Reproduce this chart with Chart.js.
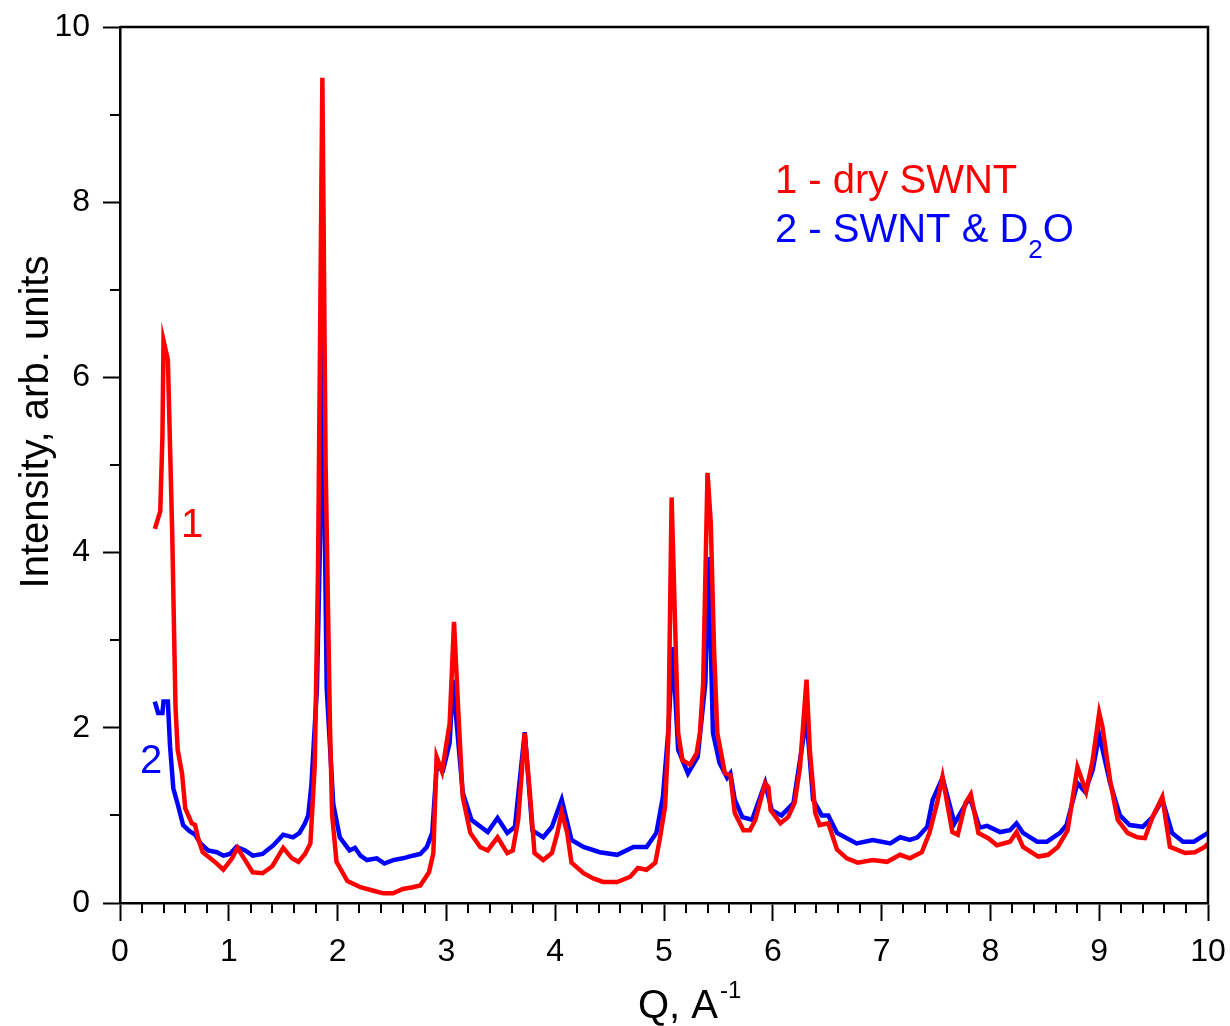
<!DOCTYPE html>
<html>
<head>
<meta charset="utf-8">
<script src="https://cdn.jsdelivr.net/npm/chart.js@4/dist/chart.umd.min.js"></script>
<style>
    html, body { margin: 0; padding: 0; background: #fff; }
    #wrap { width: 1230px; height: 1026px; }
</style>
</head>
<body>
<div id="wrap"><canvas id="chart"></canvas></div>
<script>
// curve 1 - dry SWNT
const dryQ = [0.32, 0.37, 0.39, 0.40, 0.44, 0.48, 0.51, 0.53, 0.57, 0.60, 0.66, 0.69, 0.72, 0.76, 0.83, 0.89, 0.95, 1.03, 1.08, 1.15,
    1.22, 1.31, 1.40, 1.50, 1.58, 1.64, 1.70, 1.75, 1.79, 1.82, 1.86, 1.89, 1.93, 1.95, 1.99, 2.09, 2.21, 2.33, 2.42, 2.51,
    2.60, 2.69, 2.76, 2.84, 2.88, 2.91, 2.96, 3.03, 3.07, 3.11, 3.15, 3.22, 3.31, 3.38, 3.47, 3.56, 3.61, 3.66, 3.72, 3.77,
    3.81, 3.89, 3.97, 4.02, 4.06, 4.11, 4.15, 4.26, 4.35, 4.44, 4.57, 4.69, 4.76, 4.84, 4.92, 4.96, 5.01, 5.04, 5.07, 5.10,
    5.13, 5.17, 5.24, 5.30, 5.33, 5.36, 5.40, 5.43, 5.46, 5.49, 5.56, 5.61, 5.65, 5.73, 5.79, 5.84, 5.93, 5.96, 5.98, 6.07,
    6.14, 6.20, 6.25, 6.31, 6.34, 6.39, 6.43, 6.51, 6.59, 6.68, 6.78, 6.92, 7.05, 7.17, 7.26, 7.37, 7.44, 7.51, 7.56, 7.65,
    7.70, 7.77, 7.82, 7.89, 7.98, 8.06, 8.18, 8.24, 8.30, 8.44, 8.53, 8.62, 8.71, 8.80, 8.82, 8.88, 8.94, 9.00, 9.03, 9.10,
    9.17, 9.26, 9.35, 9.42, 9.49, 9.58, 9.65, 9.79, 9.88, 9.97, 10.0];
const dryI = [4.27, 4.47, 5.33, 6.42, 6.20, 4.22, 2.24, 1.75, 1.48, 1.08, 0.91, 0.89, 0.73, 0.58, 0.51, 0.45, 0.38, 0.51, 0.63, 0.49,
    0.35, 0.34, 0.42, 0.63, 0.51, 0.47, 0.56, 0.68, 1.57, 3.79, 9.42, 5.00, 2.02, 1.00, 0.47, 0.25, 0.18, 0.14, 0.11, 0.11,
    0.16, 0.18, 0.20, 0.35, 0.57, 1.67, 1.50, 2.05, 3.21, 2.17, 1.21, 0.80, 0.64, 0.60, 0.75, 0.57, 0.60, 0.95, 1.94, 1.21,
    0.57, 0.49, 0.57, 0.80, 1.04, 0.80, 0.46, 0.34, 0.28, 0.24, 0.24, 0.30, 0.40, 0.38, 0.46, 0.72, 1.10, 1.90, 4.63, 3.26,
    1.94, 1.63, 1.58, 1.71, 1.94, 2.51, 4.91, 4.34, 2.89, 1.94, 1.48, 1.46, 1.03, 0.83, 0.83, 0.95, 1.37, 1.32, 1.06, 0.91,
    0.98, 1.14, 1.55, 2.55, 1.75, 1.03, 0.89, 0.91, 0.61, 0.51, 0.46, 0.49, 0.47, 0.55, 0.51, 0.58, 0.80, 1.14, 1.44, 0.81,
    0.78, 1.14, 1.24, 0.80, 0.74, 0.66, 0.70, 0.81, 0.64, 0.53, 0.55, 0.64, 0.83, 1.55, 1.48, 1.27, 1.63, 2.17, 2.01, 1.40,
    0.95, 0.80, 0.75, 0.74, 0.98, 1.21, 0.64, 0.57, 0.58, 0.64, 0.68];

// curve 2 - SWNT & D2O
const wetQ = [0.32, 0.35, 0.39, 0.40, 0.44, 0.46, 0.49, 0.53, 0.58, 0.64, 0.69, 0.74, 0.81, 0.89, 0.95, 1.01, 1.07, 1.15, 1.22, 1.31,
    1.41, 1.50, 1.59, 1.65, 1.70, 1.73, 1.76, 1.81, 1.84, 1.86, 1.88, 1.90, 1.96, 2.02, 2.11, 2.16, 2.21, 2.27, 2.36, 2.43,
    2.51, 2.60, 2.69, 2.76, 2.82, 2.87, 2.91, 2.97, 3.03, 3.06, 3.10, 3.15, 3.23, 3.38, 3.47, 3.56, 3.63, 3.72, 3.79, 3.89,
    3.97, 4.06, 4.15, 4.26, 4.41, 4.57, 4.72, 4.84, 4.93, 4.99, 5.04, 5.08, 5.13, 5.22, 5.31, 5.38, 5.41, 5.45, 5.51, 5.58,
    5.61, 5.65, 5.72, 5.81, 5.93, 5.99, 6.08, 6.19, 6.31, 6.37, 6.45, 6.51, 6.59, 6.77, 6.92, 7.08, 7.17, 7.26, 7.33, 7.42,
    7.47, 7.56, 7.67, 7.81, 7.90, 7.97, 8.09, 8.18, 8.24, 8.30, 8.43, 8.52, 8.64, 8.70, 8.80, 8.87, 8.94, 9.00, 9.10, 9.19,
    9.28, 9.40, 9.49, 9.58, 9.67, 9.77, 9.87, 10.0];
const wetI = [2.30, 2.17, 2.17, 2.30, 2.30, 1.79, 1.31, 1.13, 0.89, 0.82, 0.78, 0.68, 0.60, 0.58, 0.54, 0.56, 0.64, 0.60, 0.54, 0.56,
    0.66, 0.78, 0.75, 0.80, 0.91, 1.00, 1.36, 2.45, 4.22, 8.90, 4.50, 2.45, 1.13, 0.75, 0.60, 0.63, 0.54, 0.49, 0.51, 0.45,
    0.49, 0.51, 0.54, 0.56, 0.64, 0.80, 1.55, 1.52, 1.83, 2.55, 1.97, 1.26, 0.95, 0.81, 0.97, 0.80, 0.87, 1.95, 0.83, 0.75,
    0.87, 1.18, 0.72, 0.64, 0.58, 0.55, 0.64, 0.64, 0.80, 1.21, 1.97, 2.92, 1.75, 1.48, 1.67, 2.51, 3.95, 1.94, 1.60, 1.43,
    1.48, 1.18, 0.98, 0.95, 1.37, 1.06, 1.00, 1.14, 2.12, 1.18, 1.00, 1.00, 0.80, 0.68, 0.72, 0.68, 0.75, 0.72, 0.75, 0.87,
    1.18, 1.43, 0.91, 1.21, 0.86, 0.88, 0.81, 0.83, 0.91, 0.80, 0.70, 0.70, 0.80, 0.89, 1.37, 1.27, 1.52, 1.92, 1.37, 1.00,
    0.89, 0.87, 0.98, 1.18, 0.80, 0.70, 0.70, 0.80];

const xTicks = [0, 1, 2, 3, 4, 5, 6, 7, 8, 9, 10];
const yTicks = [0, 2, 4, 6, 8, 10];

const RED = '#ff0000';
const BLUE = '#0000ff';
const FONT = '"Liberation Sans", Arial, sans-serif';

function toPoints(xs, ys) {
    return xs.map((x, i) => ({ x: x, y: ys[i] }));
}

// frame, minor ticks and the text labels
const decorations = {
    id: 'decorations',
    afterDraw(chart) {
        const { ctx, chartArea: a } = chart;
        const xs = chart.scales.x;
        const ys = chart.scales.y;

        ctx.save();
        ctx.strokeStyle = '#000';
        ctx.lineWidth = 2.5;
        ctx.beginPath();
        ctx.moveTo(a.left, a.top);
        ctx.lineTo(a.right, a.top);
        ctx.lineTo(a.right, a.bottom);
        ctx.stroke();

        ctx.lineWidth = 2;
        ctx.beginPath();
        for (let i = 1; i < 50; i++) {
            if (i % 5 === 0) continue;
            const px = Math.round(xs.getPixelForValue(i / 5));
            ctx.moveTo(px, a.bottom);
            ctx.lineTo(px, a.bottom + 10);
        }
        for (let v = 1; v < 10; v += 2) {
            const py = Math.round(ys.getPixelForValue(v));
            ctx.moveTo(a.left, py);
            ctx.lineTo(a.left - 10, py);
        }
        ctx.stroke();

        ctx.fillStyle = '#000';
        ctx.textBaseline = 'alphabetic';
        ctx.textAlign = 'left';

        // x title
        ctx.font = '40px ' + FONT;
        ctx.fillText('Q, A', 638, 1018);
        const qw = ctx.measureText('Q, A').width;
        ctx.font = '24px ' + FONT;
        ctx.fillText('-1', 638 + qw + 2, 998);

        // y title
        ctx.save();
        ctx.translate(48, 422);
        ctx.rotate(-Math.PI / 2);
        ctx.textAlign = 'center';
        ctx.font = '40px ' + FONT;
        ctx.fillText('Intensity, arb. units', 0, 0);
        ctx.restore();

        // curve labels
        ctx.font = '40px ' + FONT;
        ctx.fillStyle = RED;
        ctx.fillText('1', 181, 537);
        ctx.fillText('1 - dry SWNT', 775, 193);
        ctx.fillStyle = BLUE;
        ctx.fillText('2', 140, 773);
        const main = '2 - SWNT & D';
        ctx.fillText(main, 775, 242);
        const mw = ctx.measureText(main).width;
        ctx.font = '26px ' + FONT;
        ctx.fillText('2', 775 + mw, 258);
        const sw = ctx.measureText('2').width;
        ctx.font = '40px ' + FONT;
        ctx.fillText('O', 775 + mw + sw, 242);
        ctx.restore();
    },
};

const ctx = document.getElementById('chart').getContext('2d');

new Chart(ctx, {
    type: 'line',
    data: {
        datasets: [
            {
                label: '1 - dry SWNT',
                data: toPoints(dryQ, dryI),
                borderColor: RED,
                borderWidth: 4.5,
                pointRadius: 0,
                tension: 0,
                order: 0,
            },
            {
                label: '2 - SWNT & D2O',
                data: toPoints(wetQ, wetI),
                borderColor: BLUE,
                borderWidth: 4.5,
                pointRadius: 0,
                tension: 0,
                order: 1,
            },
        ],
    },
    options: {
        responsive: true,
        maintainAspectRatio: false,
        animation: false,
        layout: {
            padding: { top: 27, right: 22, left: 0, bottom: 0 },
        },
        plugins: {
            legend: { display: false },
            tooltip: { enabled: false },
        },
        scales: {
            x: {
                type: 'linear',
                min: 0,
                max: 10,
                afterFit(scale) {
                    scale.height = 123;
                    scale.paddingLeft = 0;
                    scale.paddingRight = 0;
                },
                afterBuildTicks(scale) { scale.ticks = xTicks.map((v) => ({ value: v })); },
                grid: {
                    drawOnChartArea: false,
                    tickLength: 18,
                    tickColor: '#000',
                    tickWidth: 2,
                },
                border: { display: true, color: '#000', width: 2.5 },
                ticks: {
                    color: '#000',
                    padding: 12,
                    maxRotation: 0,
                    font: { family: FONT, size: 32 },
                },
            },
            y: {
                type: 'linear',
                min: 0,
                max: 10,
                afterFit(scale) {
                    scale.width = 120;
                    scale.paddingTop = 0;
                    scale.paddingBottom = 0;
                },
                afterBuildTicks(scale) { scale.ticks = yTicks.map((v) => ({ value: v })); },
                grid: {
                    drawOnChartArea: false,
                    tickLength: 17,
                    tickColor: '#000',
                    tickWidth: 2,
                },
                border: { display: true, color: '#000', width: 2.5 },
                ticks: {
                    color: '#000',
                    padding: 13,
                    font: { family: FONT, size: 32 },
                },
            },
        },
    },
    plugins: [decorations],
});
</script>
</body>
</html>
